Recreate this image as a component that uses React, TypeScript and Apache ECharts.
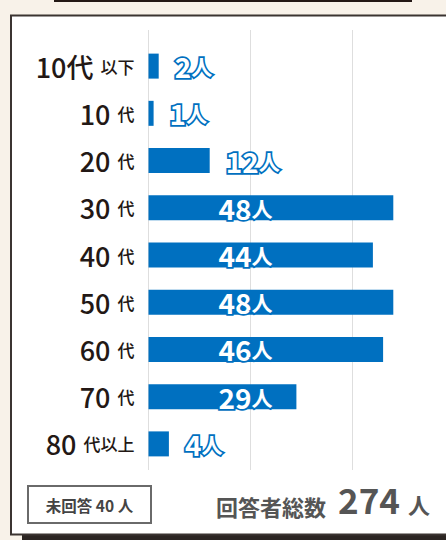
import React, { useEffect, useRef } from "react";
import * as echarts from "echarts";

const categories = ["10代 以下", "10 代", "20 代", "30 代", "40 代", "50 代", "60 代", "70 代", "80 代以上"];
const values = [2, 1, 12, 48, 44, 48, 46, 29, 4];
const unanswered = 40;
const total = 274;

const FONT = "'Noto Sans CJK JP', 'Noto Sans', sans-serif";
const BLUE = "#0070c0";

export default function App() {
  const ref = useRef<HTMLDivElement>(null);
  useEffect(() => {
    document.body.style.margin = "0";
    const chart = echarts.init(ref.current!, null, { renderer: "svg" });
    const labelRich = {
      n: { fontSize: 28, fontWeight: "bold", color: "#fff", textBorderColor: BLUE, textBorderWidth: 3.5, fontFamily: FONT },
      u: { fontSize: 21, fontWeight: "bold", color: "#fff", textBorderColor: BLUE, textBorderWidth: 3.5, fontFamily: FONT },
    };
    chart.setOption({
      animation: false,
      graphic: [
        { type: "rect", z: -20, shape: { x: 0, y: 0, width: 446, height: 540 }, style: { fill: "#f8f2e9" } },
        { type: "rect", z: -20, shape: { x: 54, y: 0, width: 358, height: 2 }, style: { fill: "#231815" } },
        { type: "rect", z: -19, shape: { x: 22, y: 534, width: 430, height: 6 }, style: { fill: "#2b2522" } },
        { type: "rect", z: -18, shape: { x: 11, y: 15.5, width: 450, height: 519 }, style: { fill: "#fff", stroke: "#3b3431", lineWidth: 2 } },
        { type: "rect", z: 5, shape: { x: 28, y: 486, width: 123, height: 37 }, style: { fill: "#fff", stroke: "#6a6a6a", lineWidth: 2 } },
        { type: "text", z: 6, x: 89.5, y: 504.5, style: { text: `未回答 ${unanswered} 人`, fontSize: 15.5, fontWeight: "bold", fill: "#444", fontFamily: FONT, textAlign: "center", textVerticalAlign: "middle" } },
        { type: "text", z: 6, x: 216, y: 506, style: { text: "回答者総数", fontSize: 22, fontWeight: "bold", fill: "#555", fontFamily: FONT, textAlign: "left", textVerticalAlign: "middle" } },
        { type: "text", z: 6, x: 338, y: 498, style: { text: String(total), fontSize: 35, fontWeight: "bold", fill: "#555", fontFamily: FONT, textAlign: "left", textVerticalAlign: "middle" } },
        { type: "text", z: 6, x: 408, y: 504, style: { text: "人", fontSize: 22, fontWeight: "bold", fill: "#555", fontFamily: FONT, textAlign: "left", textVerticalAlign: "middle" } },
      ],
      grid: [
        { left: 148.5, width: 306, top: 42.5, height: 425, outerBoundsMode: "none", containLabel: false },
        { left: 148.5, width: 306, top: 30, height: 440, outerBoundsMode: "none", containLabel: false },
      ],
      xAxis: [
        { type: "value", gridIndex: 0, min: 0, max: 60, interval: 20, axisLine: { show: false }, axisTick: { show: false }, axisLabel: { show: false }, splitLine: { show: false } },
        { type: "value", gridIndex: 1, min: 0, max: 60, interval: 20, axisLine: { show: false }, axisTick: { show: false }, axisLabel: { show: false }, splitLine: { show: true, lineStyle: { color: "#dedede", width: 1 } } },
      ],
      yAxis: [
        {
          type: "category",
          gridIndex: 0,
          inverse: true,
          data: categories,
          axisLine: { show: false },
          axisTick: { show: false },
          axisLabel: {
            margin: 14,
            formatter: (v: string) => {
              const i = v.indexOf(" ");
              return `{b|${v.slice(0, i)}}{sp|}{s|${v.slice(i + 1)}}`;
            },
            rich: {
              b: { fontSize: 27, fontWeight: 500, color: "#231815", fontFamily: FONT },
              s: { fontSize: 17, fontWeight: 500, color: "#231815", fontFamily: FONT },
              sp: { width: 7 },
            },
          },
        },
        { type: "value", gridIndex: 1, show: false, min: 0, max: 1 },
      ],
      series: [
        {
          type: "bar",
          xAxisIndex: 0,
          yAxisIndex: 0,
          barWidth: 25,
          itemStyle: { color: BLUE },
          data: values.map((v) => ({
            value: v,
            label:
              v >= 20
                ? { show: true, position: [70, "50%"], align: "left", verticalAlign: "middle" }
                : { show: true, position: "right", distance: 16 },
          })),
          label: {
            show: true,
            formatter: (p: any) => `{n|${p.value}}{u|人}`,
            rich: labelRich,
          },
        },
      ],
    });
    return () => chart.dispose();
  }, []);
  return <div ref={ref} style={{ width: 446, height: 540 }} />;
}
